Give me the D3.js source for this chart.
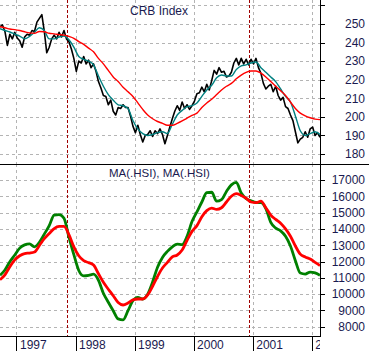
<!DOCTYPE html>
<html><head><meta charset="utf-8">
<script src="https://cdn.jsdelivr.net/npm/d3@7"></script>
<style>
html,body{margin:0;padding:0;background:#fff;}
svg{display:block;font-family:"Liberation Sans",Arial,sans-serif;}
</style></head>
<body>
<script>
// ---------- DATA ----------
const yearLabels = ["1997","1998","1999","2000","2001","2002"];
const eventDates = ["1997-11-08","2000-12-06"];
const crbTicks = [180,190,200,210,220,230,240,250,260];
const hsiTicks = [8000,9000,10000,11000,12000,13000,14000,15000,16000,17000];
const startDate = "1996-09-21", endDate = "2002-02-21";

// CRB Index, half-monthly readings
const crb = [
248.5,249.5,246,238.5,244.5,242,245.5,242.5,241,237.5,
243,244.5,244,246.5,246,251,253,255,246,234.5,
237.5,242,244,242,245.5,243,246.5,242,240.5,236.5,
231.5,224.5,230,229,232.5,228.5,230.5,226.5,228.5,224.5,
219,215.5,211.5,211,206.5,209,203,201,205,204.5,
206.5,205,205,200.5,195,191.5,195.5,190.5,186.5,190,
190.5,192.5,189.5,192.5,191,193.5,190.5,185.5,190,194.5,
199,203,206,203.5,208,204.5,206.5,204,206,208.5,
212.5,213,216,213.5,217.5,214.5,219.5,225,223,226.5,
224,224.5,221.5,222,224,229,231.5,228,231.5,228.5,
231,228,231,228.5,231.5,226.5,223.5,218,215,216.5,
217.5,213.5,216.5,211.5,209,210.5,205.5,204.5,201,198,
192,186,188,189,192,189,193.5,194.5,190,191.5,
189];
// CRB short moving average (teal), monthly
const crbMaShort = [
247.5,246.5,245.7,244.5,243.5,242,243.3,245.5,248,246.5,
242,242,243,243.5,241.5,237.5,232.5,231,230,228,
222,216.5,212,209,206.5,206,204.5,198,193.5,191,
190,190.5,191.5,192,191,196,201,203.5,205.5,206,
207.5,211,214.5,217,221,222.5,222,222,225.5,227.5,
228,229,229.5,226.5,224,221.5,219,215,211,208,
200.5,192.5,190,191,192,190.5];
// CRB long moving average (red), monthly
const crbMaLong = [
248.5,248,247.3,247,246.5,245.8,245.2,245,246,245.8,
245,244.7,244.3,244,243.3,242.3,240.5,239,237,235,
231.5,228.5,225,221.5,219,216,213.5,211,207.5,204,
201,199,197.5,196.5,195.5,195.5,196.5,197.8,199.3,200.8,
202,205,207.5,209.5,212,214.5,216.5,218,220.5,222.5,
224,224.7,224.7,223.5,221.5,219,216.5,214,211.5,208,
204.5,202,200.5,199.5,198.8,198.5];
// HSI short MA (green), monthly
const hsiMaShort = [
11150,11480,11990,12400,12820,13020,13080,12900,13180,13680,
14200,14850,14880,14650,13500,12420,11450,11120,11150,11220,
10850,10050,9500,8980,8480,8420,8980,9600,9800,9700,
10000,10750,11650,12250,12620,12900,13070,13040,13550,14450,
15050,15650,16220,16250,15700,15800,16300,16700,16850,16200,
15850,15720,15620,15610,15250,14400,14050,13880,13550,12950,
12050,11290,11230,11350,11300,11150];
// HSI long MA (red), monthly
const hsiMaLong = [
10880,11180,11680,12100,12350,12490,12520,12580,12980,13400,
13720,14020,14150,14150,13650,12900,12350,12050,11930,11780,
11250,10720,10300,9900,9480,9330,9450,9650,9700,9700,
9950,10480,11080,11600,11950,12280,12400,12700,13300,13850,
14200,14750,15120,15280,15200,15300,15650,16000,16170,16050,
15880,15650,15610,15700,15300,14850,14580,14350,14000,13550,
12950,12450,12280,12150,11950,11750];

// ---------- LAYOUT ----------
const W = 369, H = 351;
const plotR = 320;
const topY0 = 0, sepY = 164, botY1 = 336;
const textColor = "#1a1a50";
const gridColor = "#b4b4b4";

const svg = d3.select("body").append("svg").attr("width", W).attr("height", H);

const t0 = new Date(startDate + "T00:00:00"), t1 = new Date(endDate + "T00:00:00");
const x = d3.scaleTime().domain([t0, t1]).range([0, plotR]);
const seriesDates = (n) => d3.range(n).map(i => new Date(t0.getTime() + i * (t1 - t0) / (n - 1)));

const yTop = d3.scaleLinear().domain([180, 250]).range([154, 24]);
const yBot = d3.scaleLinear().domain([8000, 17000]).range([326.7, 180]);

const defs = svg.append("defs");
defs.append("clipPath").attr("id", "clipTop").append("rect")
  .attr("x", 0).attr("y", topY0).attr("width", plotR).attr("height", sepY - topY0);
defs.append("clipPath").attr("id", "clipBot").append("rect")
  .attr("x", 0).attr("y", sepY).attr("width", plotR).attr("height", botY1 - sepY);
defs.append("clipPath").attr("id", "clipX").append("rect")
  .attr("x", 0).attr("y", 0).attr("width", plotR).attr("height", H);

const yearDates = yearLabels.map(y => new Date(+y, 0, 1));

// grids
function grid(clipId, yScale, ticks, yA, yB) {
  const g = svg.append("g").attr("clip-path", `url(#${clipId})`);
  g.selectAll("line.h").data(ticks).join("line")
    .attr("x1", 0).attr("x2", plotR)
    .attr("y1", d => Math.round(yScale(d)) + 0.5).attr("y2", d => Math.round(yScale(d)) + 0.5)
    .attr("stroke", gridColor).attr("stroke-width", 1).attr("stroke-dasharray", "3,3");
  g.selectAll("line.v").data(yearDates).join("line")
    .attr("x1", d => Math.round(x(d)) + 0.5).attr("x2", d => Math.round(x(d)) + 0.5)
    .attr("y1", yA).attr("y2", yB)
    .attr("stroke", gridColor).attr("stroke-width", 1).attr("stroke-dasharray", "3,3");
}
grid("clipTop", yTop, crbTicks, topY0, sepY);
grid("clipBot", yBot, hsiTicks, sepY, botY1);

// event lines
svg.append("g").selectAll("line").data(eventDates.map(d => new Date(d + "T00:00:00"))).join("line")
  .attr("x1", d => Math.round(x(d)) + 0.5).attr("x2", d => Math.round(x(d)) + 0.5).attr("y1", 0).attr("y2", botY1)
  .attr("stroke", "#a00000").attr("stroke-width", 1).attr("stroke-dasharray", "3,2");

// lines
function drawLine(clipId, values, yScale, color, width, curve) {
  const dates = seriesDates(values.length);
  const line = d3.line().x((d, i) => x(dates[i])).y(d => yScale(d)).curve(curve || d3.curveLinear);
  svg.append("path").attr("clip-path", `url(#${clipId})`)
    .datum(values).attr("d", line)
    .attr("fill", "none").attr("stroke", color).attr("stroke-width", width)
    .attr("stroke-linejoin", "round");
}
drawLine("clipTop", crb, yTop, "#000000", 1.6);
drawLine("clipTop", crbMaShort, yTop, "#008080", 1.4, d3.curveMonotoneX);
drawLine("clipTop", crbMaLong, yTop, "#ff0000", 1.4, d3.curveMonotoneX);
drawLine("clipBot", hsiMaShort, yBot, "#008000", 2.8, d3.curveMonotoneX);
drawLine("clipBot", hsiMaLong, yBot, "#ff0000", 2.8, d3.curveMonotoneX);

// titles
svg.append("text").attr("x", 130).attr("y", 15).attr("font-size", 12)
  .attr("fill", textColor).text("CRB Index");
svg.append("text").attr("x", 109).attr("y", 177).attr("font-size", 11.5)
  .attr("fill", textColor).text("MA(.HSI), MA(.HSI)");

// right axes
function rightAxis(yScale, ticks, showMax) {
  const g = svg.append("g").attr("transform", `translate(${plotR},0)`)
    .call(d3.axisRight(yScale).tickValues(ticks).tickSize(5)
      .tickFormat(d => d <= showMax ? String(d) : ""));
  g.select(".domain").remove();
  g.selectAll(".tick line").attr("stroke", "#000").attr("shape-rendering", "crispEdges");
  g.selectAll(".tick text").attr("x", 45).attr("text-anchor", "end")
    .attr("font-size", 12).attr("fill", textColor).attr("font-family", "Liberation Sans, Arial, sans-serif");
}
rightAxis(yTop, crbTicks, 250);
rightAxis(yBot, hsiTicks, 17000);

// frame lines
svg.append("line").attr("x1", plotR + 0.5).attr("x2", plotR + 0.5).attr("y1", 0).attr("y2", botY1)
  .attr("stroke", "#000").attr("stroke-width", 1);
svg.append("line").attr("x1", 0).attr("x2", W).attr("y1", sepY + 0.5).attr("y2", sepY + 0.5)
  .attr("stroke", "#000").attr("stroke-width", 1);
svg.append("line").attr("x1", 0).attr("x2", plotR + 1).attr("y1", botY1 + 0.5).attr("y2", botY1 + 0.5)
  .attr("stroke", "#000").attr("stroke-width", 1);

// bottom time axis (labels clipped at the plot's right edge)
const xa = svg.append("g").attr("clip-path", "url(#clipX)")
  .append("g").attr("transform", `translate(0,${botY1})`)
  .call(d3.axisBottom(x).tickValues(yearDates).tickSize(15).tickFormat((d, i) => yearLabels[i]));
xa.select(".domain").remove();
xa.selectAll(".tick line").attr("stroke", "#000").attr("shape-rendering", "crispEdges");
xa.selectAll(".tick text").attr("x", 3).attr("y", 13).attr("dy", 0).attr("text-anchor", "start")
  .attr("font-size", 12).attr("fill", textColor).attr("font-family", "Liberation Sans, Arial, sans-serif");
</script>
</body></html>
